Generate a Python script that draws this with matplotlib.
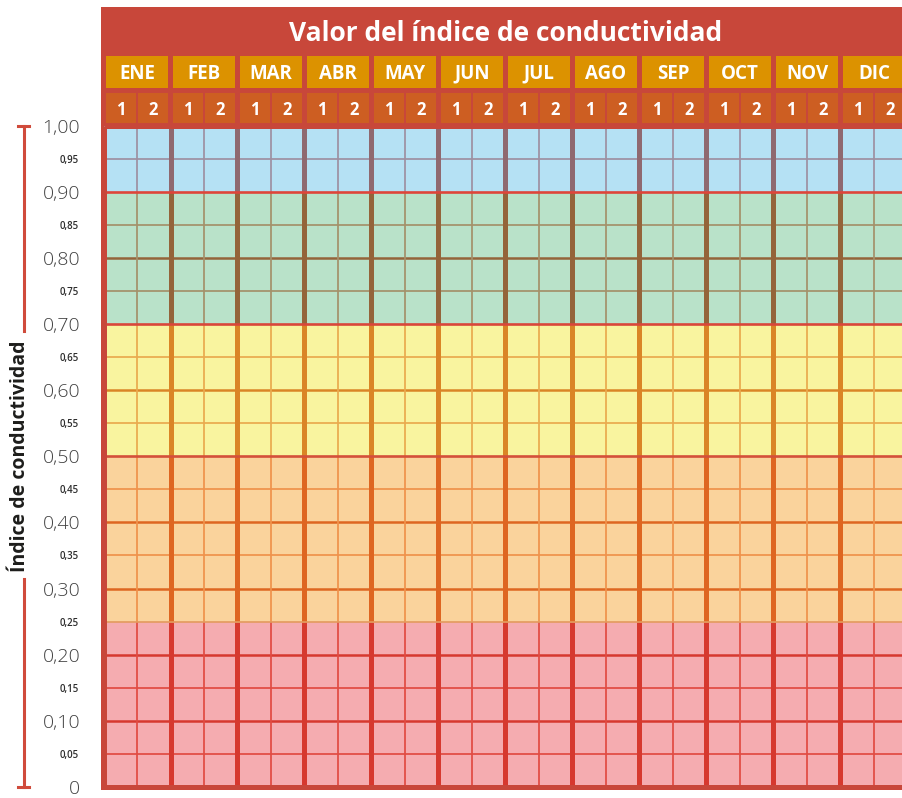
import matplotlib
matplotlib.use("Agg")
import matplotlib.pyplot as plt
from matplotlib.transforms import blended_transform_factory

plt.rcParams['font.family'] = ['Open Sans', 'DejaVu Sans']

# --- data ---
months = ["ENE", "FEB", "MAR", "ABR", "MAY", "JUN", "JUL", "AGO", "SEP", "OCT", "NOV", "DIC"]
halves = ["1", "2"]
band_edges = [0.00, 0.25, 0.50, 0.70, 0.90, 1.00]
band_fill = ["#F5ACB0", "#FAD39C", "#F9F49F", "#B9E2C9", "#B5E1F4"]
band_thick = ["#D6392F", "#DE6621", "#DA8526", "#94643A", "#8F6970"]
band_thin = ["#E14B42", "#EF924B", "#E9AA4E", "#A4916A", "#9D90A2"]
major_ticks = [0.0, 0.1, 0.2, 0.3, 0.4, 0.5, 0.6, 0.7, 0.8, 0.9, 1.0]
major_labels = ["0", "0,10", "0,20", "0,30", "0,40", "0,50", "0,60", "0,70", "0,80", "0,90", "1,00"]
minor_ticks = [0.05, 0.15, 0.25, 0.35, 0.45, 0.55, 0.65, 0.75, 0.85, 0.95]
minor_labels = ["0,05", "0,15", "0,25", "0,35", "0,45", "0,55", "0,65", "0,75", "0,85", "0,95"]
# line drawn between two bands, from the lowest boundary up
boundary_colors = ["#E39A5E", "#D4503A", "#D9463A", "#DE453A"]

frame = "#C8473A"
month_color = "#DC9200"
half_color = "#CD5E22"

W, H = 903, 798
fig = plt.figure(figsize=(W / 100, H / 100), dpi=100)
fig.patch.set_facecolor("white")

# grid axes in pixel placement: left 101, right 903, top 7, bottom 790
ax = fig.add_axes([101 / W, (H - 790) / H, (W - 101) / W, (790 - 7) / H])
ax.set_facecolor(frame)
px = 33.5           # pixels per half month
py = 661.5          # pixels per unit of the index
ax.set_xlim(-2.5 / px, (W - 103.5) / px)
ax.set_ylim(-3 / py, 1 + 118.5 / py)
for s in ax.spines.values():
    s.set_visible(False)

n = len(months) * len(halves)

# coloured bands
for i in range(len(band_fill)):
    lo, hi = band_edges[i], band_edges[i + 1]
    ax.fill_between([0, n], lo, hi, color=band_fill[i], lw=0, zorder=1)

    # horizontal lines inside the band
    k = round(lo / 0.05) + 1
    while k * 0.05 < hi - 1e-9:
        y = k * 0.05
        if k % 2 == 0:
            ax.hlines(y, 0, n, color=band_thick[i], lw=1.8, zorder=2)
        else:
            ax.hlines(y, 0, n, color=band_thin[i], lw=1.25, zorder=2)
        k += 1

    # verticals: thin line between halves, thick line between months
    ax.vlines([x for x in range(1, n, 2)], lo, hi, color=band_thin[i], lw=1.25, zorder=3)
    ax.vlines([x for x in range(2, n, 2)], lo, hi, color=band_thick[i], lw=3.6, zorder=3)

for y, c in zip(band_edges[1:-1], boundary_colors):
    ax.hlines(y, 0, n, color=c, lw=1.9 if c != boundary_colors[0] else 1.2, zorder=4)

# frame edges around the grid
ax.vlines(0, 0, 1, color=frame, lw=3.6, zorder=5)
ax.hlines([0, 1], 0, n, color=frame, lw=3.6, zorder=5)

# header: month boxes and half-month boxes
mx = [2 * m + 1 for m in range(len(months))]
ax.bar(mx, 1.1051 - 1.0567, width=1.85, bottom=1.0567, color=month_color, zorder=2)
for m, name in zip(mx, months):
    ax.text(m, 1.0785, name, color="white", fontsize=13.5, fontweight="bold",
            ha="center", va="center", zorder=6)

hx = [2 * m + 0.52 + 0.96 * h for m in range(len(months)) for h in range(len(halves))]
ax.bar(hx, 1.0491 - 1.0038, width=0.89, bottom=1.0038, color=half_color, zorder=2)
for j, x in enumerate(hx):
    ax.text(x, 1.0240, halves[j % 2], color="white", fontsize=12, fontweight="bold",
            ha="center", va="center", zorder=6)

ax.text(12, 1.1385, "Valor del índice de conductividad", color="white", fontsize=19,
        fontweight="bold", ha="center", va="center", zorder=6)

# y ticks
ax.set_xticks([])
ax.set_yticks(major_ticks, labels=major_labels)
ax.set_yticks(minor_ticks, labels=minor_labels, minor=True)
ax.tick_params(axis="y", which="major", length=0, pad=15, labelsize=14, labelcolor="#404040")
ax.tick_params(axis="y", which="minor", length=0, pad=16, labelsize=7, labelcolor="#2E2E2E")
for t in ax.get_yticklabels(which="major"):
    t.set_fontweight("light")
for t in ax.get_yticklabels(which="minor"):
    t.set_fontweight("semibold")

# bracket beside the axis label
tr = blended_transform_factory(fig.transFigure, ax.transData)
bx = 23.5 / W
red = "#D04B3C"
ax.plot([bx, bx], [1.0, 0.69], color=red, lw=2.2, transform=tr, clip_on=False)
ax.plot([bx, bx], [0.315, 0.0], color=red, lw=2.2, transform=tr, clip_on=False)
for y in (0.0, 1.0):
    ax.plot([18 / W, 29 / W], [y, y], color=red, lw=2.2, transform=tr, clip_on=False)

fig.text(20 / W, (H - 456) / H, "Índice de conductividad", rotation=90, fontsize=14,
         fontweight="bold", color="#1D1D1B", ha="center", va="center")

fig.savefig("out.png", dpi=100)
